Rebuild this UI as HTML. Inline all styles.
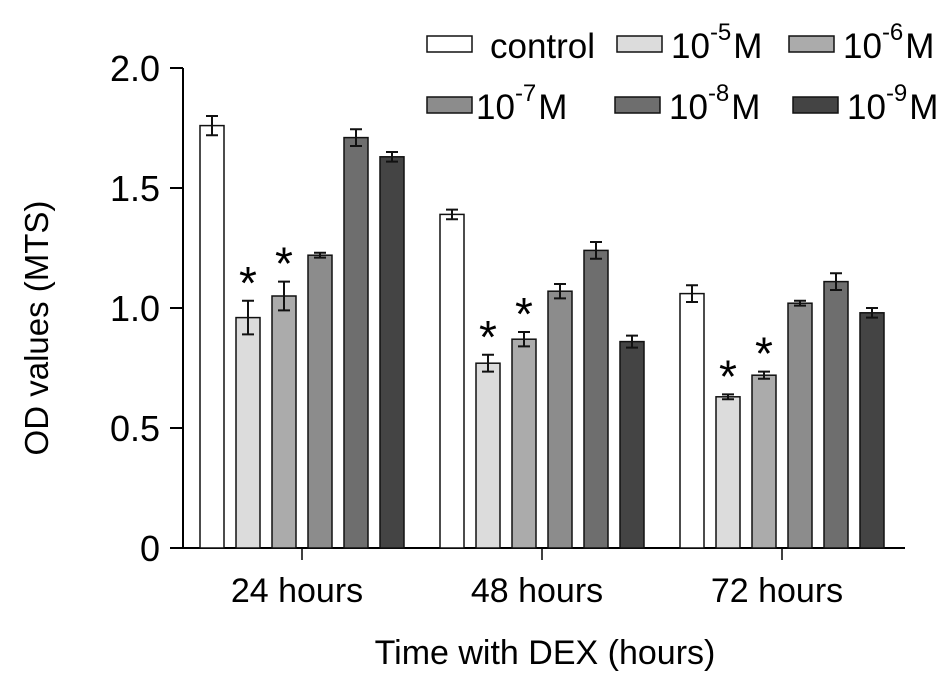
<!DOCTYPE html>
<html><head><meta charset="utf-8"><style>
body{margin:0;background:#fff}
svg text{font-family:"Liberation Sans",Arial,sans-serif;fill:#000}
</style></head><body>
<svg width="945" height="682" viewBox="0 0 945 682">
<g id="plot"></g>
</svg>
<script>
const categories=["24 hours","48 hours","72 hours"];
const seriesNames=["control","10^-5","10^-6","10^-7","10^-8","10^-9"];
const s0=[1.76,1.39,1.06];
const s1=[0.96,0.77,0.63];
const s2=[1.05,0.87,0.72];
const s3=[1.22,1.07,1.02];
const s4=[1.71,1.24,1.11];
const s5=[1.63,0.86,0.98];
const e0=[0.04,0.02,0.035];
const e1=[0.07,0.035,0.01];
const e2=[0.06,0.03,0.015];
const e3=[0.01,0.03,0.01];
const e4=[0.035,0.035,0.035];
const e5=[0.02,0.025,0.02];
const starred=[[false,false,false],[true,true,true],[true,true,true],[false,false,false],[false,false,false],[false,false,false]];
const yTicks=[0,0.5,1.0,1.5,2.0];
const yTickLabels=["0","0.5","1.0","1.5","2.0"];
const vals=[s0,s1,s2,s3,s4,s5], errs=[e0,e1,e2,e3,e4,e5];
const fills=["#ffffff","#dcdcdc","#ababab","#8c8c8c","#6e6e6e","#444444"];
const NS="http://www.w3.org/2000/svg";
const g=document.getElementById('plot');
function y(v){return 548-v*240;}
function gx(i){return 302+i*240;}
function mk(t,a,p){const e=document.createElementNS(NS,t);for(const k in a)e.setAttribute(k,a[k]);(p||g).appendChild(e);return e;}
let ax=mk('line',{x1:183,y1:68,x2:183,y2:548,stroke:'#000','stroke-width':2});


let xa=mk('line',{x1:170,y1:548,x2:905,y2:548,stroke:'#000','stroke-width':2});


yTicks.forEach((t,i)=>{
 const l=mk('line',{x1:170,y1:y(t),x2:183,y2:y(t),stroke:'#000','stroke-width':2});
 
 
 const tx=mk('text',{x:160,y:y(t)+13,'text-anchor':'end','font-size':36});
 tx.textContent=yTickLabels[i];
 
 
});
categories.forEach((c,i)=>{
 const l=mk('line',{x1:gx(i),y1:548,x2:gx(i),y2:560,stroke:'#000','stroke-width':1.5});
 
 
 const tx=mk('text',{x:gx(i)-5,y:602,'text-anchor':'middle','font-size':34});
 tx.textContent=c;
 
 
});
vals.forEach((s,si)=>{
 s.forEach((v,i)=>{
  const x0=gx(i)-102+si*36;
  const r=mk('rect',{x:x0,y:y(v),width:24,height:548-y(v),fill:fills[si],stroke:'#111','stroke-width':1.5});
  
  
  const cx=x0+12,e=errs[si][i];
  const eb=mk('path',{d:`M${cx},${y(v+e)}V${y(v-e)}M${cx-6},${y(v+e)}H${cx+6}M${cx-6},${y(v-e)}H${cx+6}`,stroke:'#111','stroke-width':2,fill:'none'});
  
  
  if(starred[si][i]){
   const st=mk('text',{x:cx,y:y(v+e)-2,'text-anchor':'middle','font-size':46});
   st.textContent='*';
   
   
  }
 });
});
const legPos=[[427,36],[617,36],[789,36],[427,97],[615,97],[793,97]];
seriesNames.forEach((n,si)=>{
 const [lx,ly]=legPos[si];
 const r=mk('rect',{x:lx,y:ly,width:45,height:16,fill:fills[si],stroke:'#111','stroke-width':1.5});
 
 
 const t=mk('text',{x:lx+(si==0?63:(si==3?49:54)),y:ly+22,'font-size':35});
 
 
 if(si==0){t.textContent=n;}
 else{
  const p=n.split('^');
  t.textContent=p[0];
  const sup=mk('tspan',{dy:-18,'font-size':24},t);sup.textContent=p[1];
  const m=mk('tspan',{dy:18,dx:2,'font-size':35},t);m.textContent='M';
 }
});
const xt=mk('text',{x:545,y:664,'text-anchor':'middle','font-size':34});
xt.textContent='Time with DEX (hours)';


const yt=mk('text',{x:0,y:0,'text-anchor':'middle','font-size':33,transform:'translate(48,328) rotate(-90)'});
yt.textContent='OD values (MTS)';


</script>
</body></html>
